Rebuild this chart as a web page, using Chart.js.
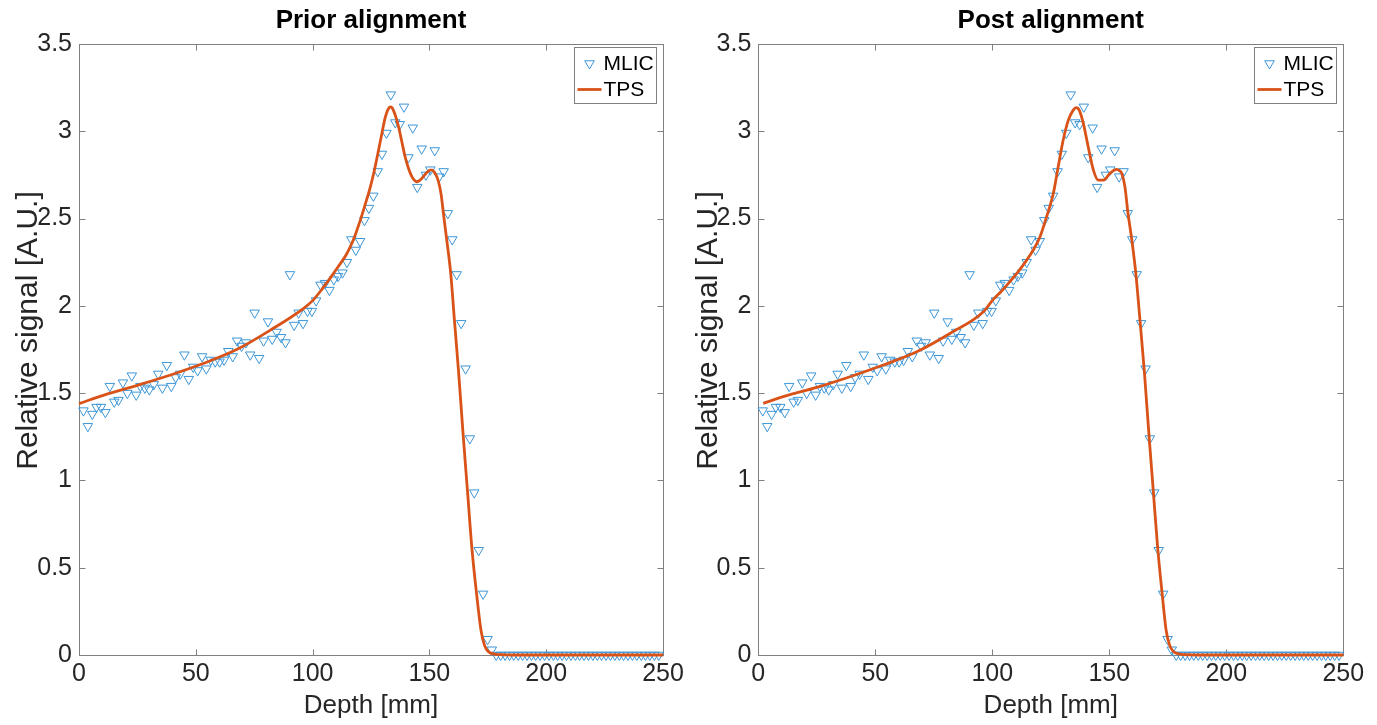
<!DOCTYPE html>
<html><head><meta charset="utf-8">
<script src="https://cdn.jsdelivr.net/npm/chart.js@4.4.1/dist/chart.umd.min.js"></script>
<style>
html,body{margin:0;padding:0;background:#fff;width:1377px;height:725px;overflow:hidden;}
canvas{position:absolute;top:0;}
#c1{left:0;}
#c2{left:680px;}
</style></head><body>
<canvas id="c1" width="693" height="725"></canvas>
<canvas id="c2" width="697" height="725"></canvas>
<script>
const panelTitles = ['Prior alignment', 'Post alignment'];
const xTitle = 'Depth [mm]';
const yTitle = 'Relative signal [A.U.]';
const seriesNames = ['MLIC', 'TPS'];
const xTicks = [0, 50, 100, 150, 200, 250];
const yTicks = [0, 0.5, 1, 1.5, 2, 2.5, 3, 3.5];

const mlicDepth = [1.9,3.8,5.7,7.5,9.4,11.3,13.2,15.1,16.9,18.8,20.7,22.6,24.5,26.3,28.2,30.1,32.0,33.9,35.7,37.6,
39.5,41.4,43.3,45.1,47.0,48.9,50.8,52.7,54.5,56.4,58.3,60.2,62.1,63.9,65.8,67.7,69.6,71.5,73.3,75.2,
77.1,79.0,80.9,82.7,84.6,86.5,88.4,90.3,92.1,94.0,95.9,97.8,99.7,101.5,103.4,105.3,107.2,109.1,110.9,112.8,
114.7,116.6,118.5,120.3,122.2,124.1,126.0,127.9,129.7,131.6,133.5,135.4,137.3,139.1,141.0,142.9,144.8,146.7,148.5,150.4,
152.3,154.2,156.1,157.9,159.8,161.7,163.6,165.5,167.3,169.2,171.1,173.0,174.9,176.7,178.6,180.5,182.4,184.3,186.1,188.0,
189.9,191.8,193.7,195.5,197.4,199.3,201.2,203.1,204.9,206.8,208.7,210.6,212.5,214.3,216.2,218.1,220.0,221.9,223.7,225.6,
227.5,229.4,231.3,233.1,235.0,236.9,238.8,240.7,242.5,244.4,246.3,248.2];
const mlicSignal = [1.40,1.31,1.38,1.42,1.42,1.39,1.54,1.45,1.46,1.56,1.50,1.60,1.49,1.54,1.53,1.52,1.55,1.61,1.53,1.66,
1.54,1.59,1.61,1.72,1.58,1.65,1.63,1.71,1.64,1.69,1.68,1.68,1.69,1.74,1.71,1.80,1.77,1.79,1.72,1.96,
1.70,1.80,1.91,1.81,1.85,1.82,1.79,2.18,1.89,1.96,1.90,1.97,1.97,2.03,2.12,2.13,2.09,2.15,2.17,2.19,
2.25,2.38,2.32,2.37,2.49,2.56,2.63,2.77,2.87,2.99,3.21,3.05,3.04,3.14,2.85,3.02,2.68,2.90,2.75,2.78,
2.89,2.74,2.77,2.53,2.38,2.18,1.90,1.64,1.24,0.93,0.60,0.35,0.09,0.03,0,0,0,0,0,0,
0,0,0,0,0,0,0,0,0,0,0,0,0,0,0,0,0,0,0,0,
0,0,0,0,0,0,0,0,0,0,0,0];

const tpsPriorDepth = [0,10.7,25,39.2,53.4,67.7,81.9,96.2,100,104,107.6,111,114.7,117.5,120.4,122.5,124.7,126.5,128.2,129.7,
131.1,132.3,133.2,134,134.6,135.7,136.8,138.2,139.6,141,142.5,143.6,144.6,146,147.4,149,150.3,151.2,152,153,
153.9,155,156,157.4,159.1,160.7,162.5,164.4,166.3,168.2,170.2,172.1,173.6,175.3,178,183,188,250];
const tpsPriorSignal = [1.44,1.489,1.545,1.604,1.671,1.751,1.861,1.986,2.03,2.095,2.16,2.225,2.30,2.38,2.49,2.58,2.68,2.78,2.89,2.99,
3.08,3.125,3.14,3.135,3.12,3.08,3.026,2.94,2.854,2.79,2.74,2.72,2.711,2.72,2.74,2.765,2.778,2.778,2.768,2.745,
2.711,2.64,2.53,2.38,2.19,1.92,1.62,1.27,0.94,0.61,0.35,0.14,0.055,0.018,0.005,0.001,0,0];

const tpsPostDepth = [2.1,10.7,25,39.2,53.4,67.7,81.9,96.2,100.4,104,107.6,111,114.7,117.5,120.4,123.2,126.1,128.2,130.3,132.5,
134.6,135.8,137.2,138.9,141,143.2,145.3,147.4,150.3,152,153.2,154.3,155.3,156.7,157.9,159.6,161.3,163.1,165.0,166.9,
168.8,170.7,172.6,174.3,175.8,177.5,180,185,190,250];
const tpsPostSignal = [1.441,1.48,1.533,1.594,1.661,1.737,1.842,1.966,2.037,2.085,2.14,2.195,2.262,2.32,2.396,2.51,2.645,2.80,2.95,3.064,
3.121,3.135,3.12,3.045,2.91,2.778,2.72,2.72,2.759,2.777,2.782,2.775,2.759,2.68,2.54,2.38,2.19,1.92,1.62,1.27,
0.94,0.61,0.35,0.14,0.055,0.018,0.005,0.001,0,0];

const FONT = "'Liberation Sans', Arial, Helvetica, sans-serif";
const MLIC_COLOR = 'rgb(60,150,215)';
const TPS_COLOR = '#D95319';
const AXIS_COLOR = '#808080';
const TEXT_COLOR = '#262626';

const framePlugin = {
  id: 'frame',
  beforeDraw(chart) {
    // shift the y-axis title a little upwards, as in the reference
    const s = chart.scales.y;
    if (s && !s._titleShifted) {
      const orig = s.drawTitle.bind(s);
      s.drawTitle = function () {
        const ctx = this.ctx;
        ctx.save();
        ctx.translate(0, -19);
        orig();
        ctx.restore();
      };
      s._titleShifted = true;
    }
  },
  beforeDatasetsDraw(chart) {
    const {ctx, chartArea: a, scales: {x, y}} = chart;
    const L = Math.round(a.left) + 0.5, R = Math.round(a.right) + 0.5;
    const T = Math.round(a.top) + 0.5, B = Math.round(a.bottom) + 0.5;
    ctx.save();
    ctx.strokeStyle = AXIS_COLOR;
    ctx.lineWidth = 1;
    ctx.strokeRect(L, T, R - L, B - T);
    const tl = 6;
    ctx.beginPath();
    xTicks.forEach(v => {
      const px = Math.round(x.getPixelForValue(v)) + 0.5;
      ctx.moveTo(px, B); ctx.lineTo(px, B - tl);
      ctx.moveTo(px, T); ctx.lineTo(px, T + tl);
    });
    yTicks.forEach(v => {
      const py = Math.round(y.getPixelForValue(v)) + 0.5;
      ctx.moveTo(L, py); ctx.lineTo(L + tl, py);
      ctx.moveTo(R, py); ctx.lineTo(R - tl, py);
    });
    ctx.stroke();
    ctx.restore();
  }
};

const legendPlugin = {
  id: 'boxLegend',
  afterDraw(chart) {
    const {ctx, chartArea: a} = chart;
    const ds = chart.data.datasets;
    const mlic = ds.find(d => d.label === seriesNames[0]);
    const tps = ds.find(d => d.label === seriesNames[1]);
    const bw = 82, bh = 56;
    const bx = Math.round(a.right - 7 - bw) + 0.5, by = Math.round(a.top + 3) + 0.5;
    ctx.save();
    ctx.fillStyle = '#fff';
    ctx.fillRect(bx, by, bw, bh);
    ctx.strokeStyle = AXIS_COLOR;
    ctx.lineWidth = 1;
    ctx.strokeRect(bx, by, bw, bh);
    const mx = bx + 15, my = by + 16;
    const r = 5.5;
    ctx.beginPath();
    let rad = Math.PI;
    ctx.moveTo(mx + Math.sin(rad) * r, my - Math.cos(rad) * r);
    rad += 2 * Math.PI / 3;
    ctx.lineTo(mx + Math.sin(rad) * r, my - Math.cos(rad) * r);
    rad += 2 * Math.PI / 3;
    ctx.lineTo(mx + Math.sin(rad) * r, my - Math.cos(rad) * r);
    ctx.closePath();
    ctx.strokeStyle = MLIC_COLOR;
    ctx.lineWidth = 1;
    ctx.stroke();
    const ly = by + 42;
    ctx.beginPath();
    ctx.moveTo(bx + 3, ly); ctx.lineTo(bx + 27, ly);
    ctx.strokeStyle = TPS_COLOR;
    ctx.lineWidth = 2.8;
    ctx.stroke();
    ctx.fillStyle = '#000';
    ctx.font = '21px ' + FONT;
    ctx.textBaseline = 'middle';
    ctx.textAlign = 'left';
    ctx.fillText(mlic.label, bx + 29, my + 1);
    ctx.fillText(tps.label, bx + 29, ly + 1);
    ctx.restore();
  }
};

function makeChart(id, title, tDepth, tSignal, yAxisWidth, padRight) {
  const mlicData = mlicDepth.map((d, i) => ({x: d, y: mlicSignal[i]}));
  const tpsData = tDepth.map((d, i) => ({x: d, y: tSignal[i]}));
  return new Chart(document.getElementById(id), {
    type: 'scatter',
    data: {
      datasets: [
        {
          type: 'line', label: seriesNames[1], data: tpsData, order: 0,
          borderColor: TPS_COLOR, borderWidth: 2.8, pointRadius: 0,
          cubicInterpolationMode: 'monotone', fill: false, clip: false
        },
        {
          label: seriesNames[0], data: mlicData, order: 1,
          pointStyle: 'triangle', rotation: 180, pointRadius: 5.5,
          pointBorderWidth: 1, borderColor: MLIC_COLOR, pointBorderColor: MLIC_COLOR,
          backgroundColor: 'rgba(0,0,0,0)', pointBackgroundColor: 'rgba(0,0,0,0)',
          showLine: false, clip: false
        }
      ]
    },
    options: {
      responsive: false,
      animation: false,
      devicePixelRatio: 1,
      layout: {padding: {left: 0, right: padRight, top: 0, bottom: 0}},
      plugins: {
        legend: {display: false},
        tooltip: {enabled: false},
        title: {
          display: true, text: title, fullSize: false, color: '#000',
          font: {family: FONT, size: 26, weight: 'bold'},
          padding: {top: 5, bottom: 7.8}
        }
      },
      scales: {
        x: {
          type: 'linear', min: 0, max: 250,
          afterBuildTicks: s => { s.ticks = xTicks.map(v => ({value: v})); },
          afterFit: s => { s.height = 70; },
          grid: {display: false, drawTicks: false},
          border: {display: false},
          ticks: {color: TEXT_COLOR, font: {family: FONT, size: 25}, padding: 4, maxRotation: 0,
                  callback: v => String(v)},
          title: {display: true, text: xTitle, color: TEXT_COLOR, font: {family: FONT, size: 26}, padding: {top: 0, bottom: 3.4}}
        },
        y: {
          type: 'linear', min: 0, max: 3.5,
          afterBuildTicks: s => { s.ticks = yTicks.map(v => ({value: v})); },
          afterFit: s => { s.width = yAxisWidth; },
          grid: {display: false, drawTicks: false},
          border: {display: false},
          ticks: {color: TEXT_COLOR, font: {family: FONT, size: 25}, padding: 7,
                  callback: v => String(v)},
          title: {display: true, text: yTitle, color: TEXT_COLOR, font: {family: FONT, size: 30}, padding: {top: 11, bottom: 0}}
        }
      }
    },
    plugins: [framePlugin, legendPlugin]
  });
}

makeChart('c1', panelTitles[0], tpsPriorDepth, tpsPriorSignal, 79, 30);
makeChart('c2', panelTitles[1], tpsPostDepth, tpsPostSignal, 78.3, 33.7);
</script>
</body></html>
